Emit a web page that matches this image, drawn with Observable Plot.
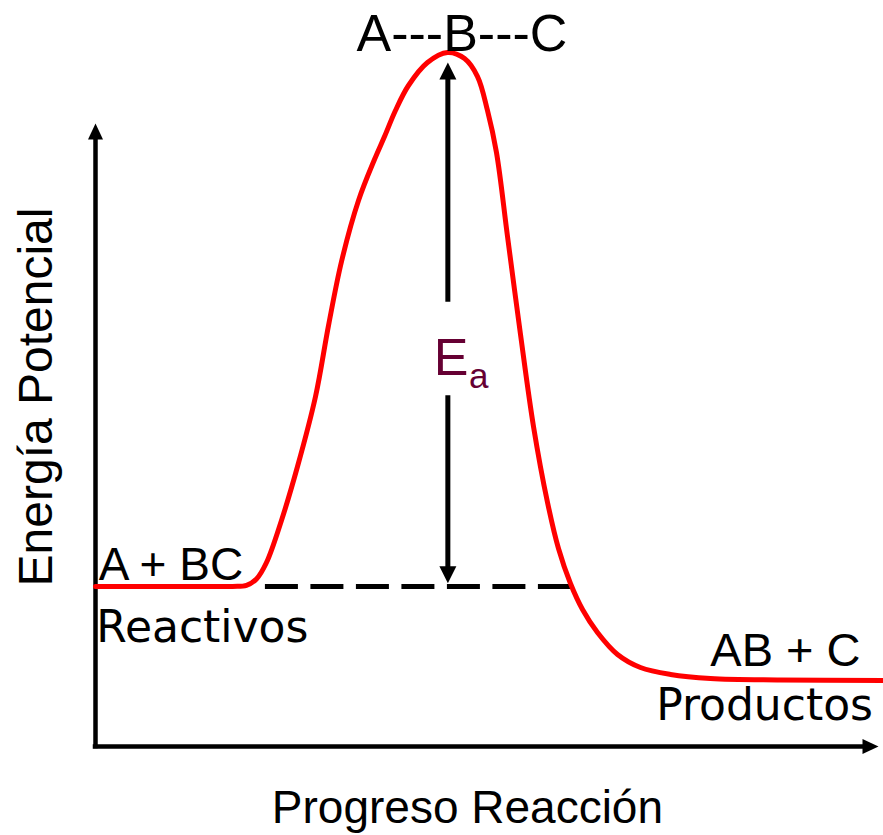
<!DOCTYPE html>
<html>
<head>
<meta charset="utf-8">
<script src="https://cdn.jsdelivr.net/npm/d3@7"></script>
<script src="https://cdn.jsdelivr.net/npm/@observablehq/plot@0.6"></script>
<style>
  html, body { margin: 0; padding: 0; background: #ffffff; }
  #chart svg { display: block; }
</style>
</head>
<body>
<div id="chart"></div>
<script>
// ---- data (reaction progress 0–100, potential energy 0–100 arbitrary units) ----
const progress = [0, 9.58, 17.50, 19.28, 20.56, 21.84, 23.75, 25.80, 28.10, 29.76, 31.42, 33.59, 35.63, 36.91, 38.31,
                  39.97, 42.40, 44.96, 47.13, 48.79, 50.06, 51.21, 52.62, 54.28, 55.94, 57.73, 59.13, 60.66,
                  62.20, 64.11, 66.67, 69.60, 73.44, 78.54, 87.48, 100.64];
const energy   = [25.7, 25.7, 25.7, 25.87, 26.89, 29.53, 36.28, 44.94, 56.18, 67.58, 77.85, 87.64, 94.22, 97.91, 102.09,
                  106.10, 109.79, 111.40, 110.43, 107.54, 102.09, 95.35, 81.86, 66.13, 51.36, 39.17, 31.78, 26.16,
                  21.99, 18.30, 14.77, 12.68, 11.56, 10.91, 10.67, 10.59];

const reactantLevel = 25.7;       // A + BC
const dashStart = 21.7, dashEnd = 60.7;
const peakProgress = 45.0;        // A---B---C
const eaTop = 109.8, eaBottom = 26.2;     // arrow tips
const eaGapTop = 71.3, eaGapBottom = 56.3; // gap around the E_a label

const arialLabels = [
  {x: 46.8, y: 111.7, text: "A---B---C", size: 52, anchor: "middle"},
  {x: 0.4,  y: 26.8,  text: "A + BC",    size: 46, anchor: "start"},
  {x: 97.7, y: 13.0,  text: "AB + C",    size: 47, anchor: "end"},
  {x: 47.5, y: -12.2, text: "Progreso Reacción", size: 46, anchor: "middle"}
];
const handLabels = [
  {x: 0.1,  y: 16.7, text: "Reactivos"},
  {x: 71.6, y: 4.2,  text: "Productos"}
];
const yLabel = [{x: -5.5, y: 56.1, text: "Energía Potencial"}];
const eaMain = [{x: 43.2, y: 59.6, text: "E"}];
const eaSub  = [{x: 47.7, y: 57.5, text: "a"}];

const curve = progress.map((p, i) => ({p, e: energy[i]}));
const axisHeads = [{x: 0, y: 100, rot: 0}, {x: 100, y: 0, rot: 90}];
const eaHeads = [{x: peakProgress, y: eaTop, rot: 0}, {x: peakProgress, y: eaBottom, rot: 180}];
const eaShafts = [{y1: eaTop - 2, y2: eaGapTop}, {y1: eaGapBottom, y2: eaBottom + 2}];

const SANS = "'Liberation Sans', Arial, Helvetica, sans-serif";
const HAND = "'DejaVu Sans', 'Comic Sans MS', sans-serif";

const chart = Plot.plot({
  width: 883,
  height: 835,
  marginLeft: 95,
  marginRight: 5,
  marginTop: 123,
  marginBottom: 89,
  x: {domain: [0, 100], axis: null},
  y: {domain: [0, 100], axis: null},
  style: {background: "#ffffff", overflow: "visible", fontFamily: SANS},
  marks: [
    // axes
    Plot.ruleX([0], {y1: 0, y2: 98, stroke: "black", strokeWidth: 4.5, strokeLinecap: "square"}),
    Plot.ruleY([0], {x1: 0, x2: 98.5, stroke: "black", strokeWidth: 4.5, strokeLinecap: "square"}),
    Plot.vector(axisHeads, {x: "x", y: "y", rotate: "rot", length: 16, r: 7.5, shape: "spike",
                            anchor: "end", fill: "black", stroke: "none"}),
    // dashed reactant level
    Plot.ruleY([reactantLevel], {x1: dashStart, x2: dashEnd, stroke: "black", strokeWidth: 5,
                                 strokeDasharray: "33,12.5"}),
    // Ea arrow
    Plot.ruleX(eaShafts, {x: peakProgress, y1: "y1", y2: "y2", stroke: "black", strokeWidth: 5}),
    Plot.vector(eaHeads, {x: "x", y: "y", rotate: "rot", length: 17, r: 8.5, shape: "spike",
                          anchor: "end", fill: "black", stroke: "none"}),
    // energy curve
    Plot.line(curve, {x: "p", y: "e", stroke: "#ff0000", strokeWidth: 5, curve: "catmull-rom"}),
    // labels
    Plot.text(arialLabels.filter(d => d.anchor === "middle"), {x: "x", y: "y", text: "text", fontSize: (d) => d.size,
      textAnchor: "middle", lineAnchor: "bottom", fill: "black", fontFamily: SANS}),
    Plot.text(arialLabels.filter(d => d.anchor === "start"), {x: "x", y: "y", text: "text", fontSize: 46,
      textAnchor: "start", lineAnchor: "bottom", fill: "black", fontFamily: SANS}),
    Plot.text(arialLabels.filter(d => d.anchor === "end"), {x: "x", y: "y", text: "text", fontSize: 47,
      textAnchor: "end", lineAnchor: "bottom", fill: "black", fontFamily: SANS}),
    Plot.text(handLabels, {x: "x", y: "y", text: "text", fontSize: 44, textAnchor: "start",
      lineAnchor: "bottom", fill: "black", fontFamily: HAND}),
    Plot.text(yLabel, {x: "x", y: "y", text: "text", fontSize: 48, rotate: -90, textAnchor: "middle",
      lineAnchor: "bottom", fill: "black", fontFamily: SANS}),
    Plot.text(eaMain, {x: "x", y: "y", text: "text", fontSize: 52, textAnchor: "start",
      lineAnchor: "bottom", fill: "#660033", fontFamily: SANS}),
    Plot.text(eaSub, {x: "x", y: "y", text: "text", fontSize: 35, textAnchor: "start",
      lineAnchor: "bottom", fill: "#660033", fontFamily: SANS})
  ]
});
document.getElementById("chart").appendChild(chart);
</script>
</body>
</html>
